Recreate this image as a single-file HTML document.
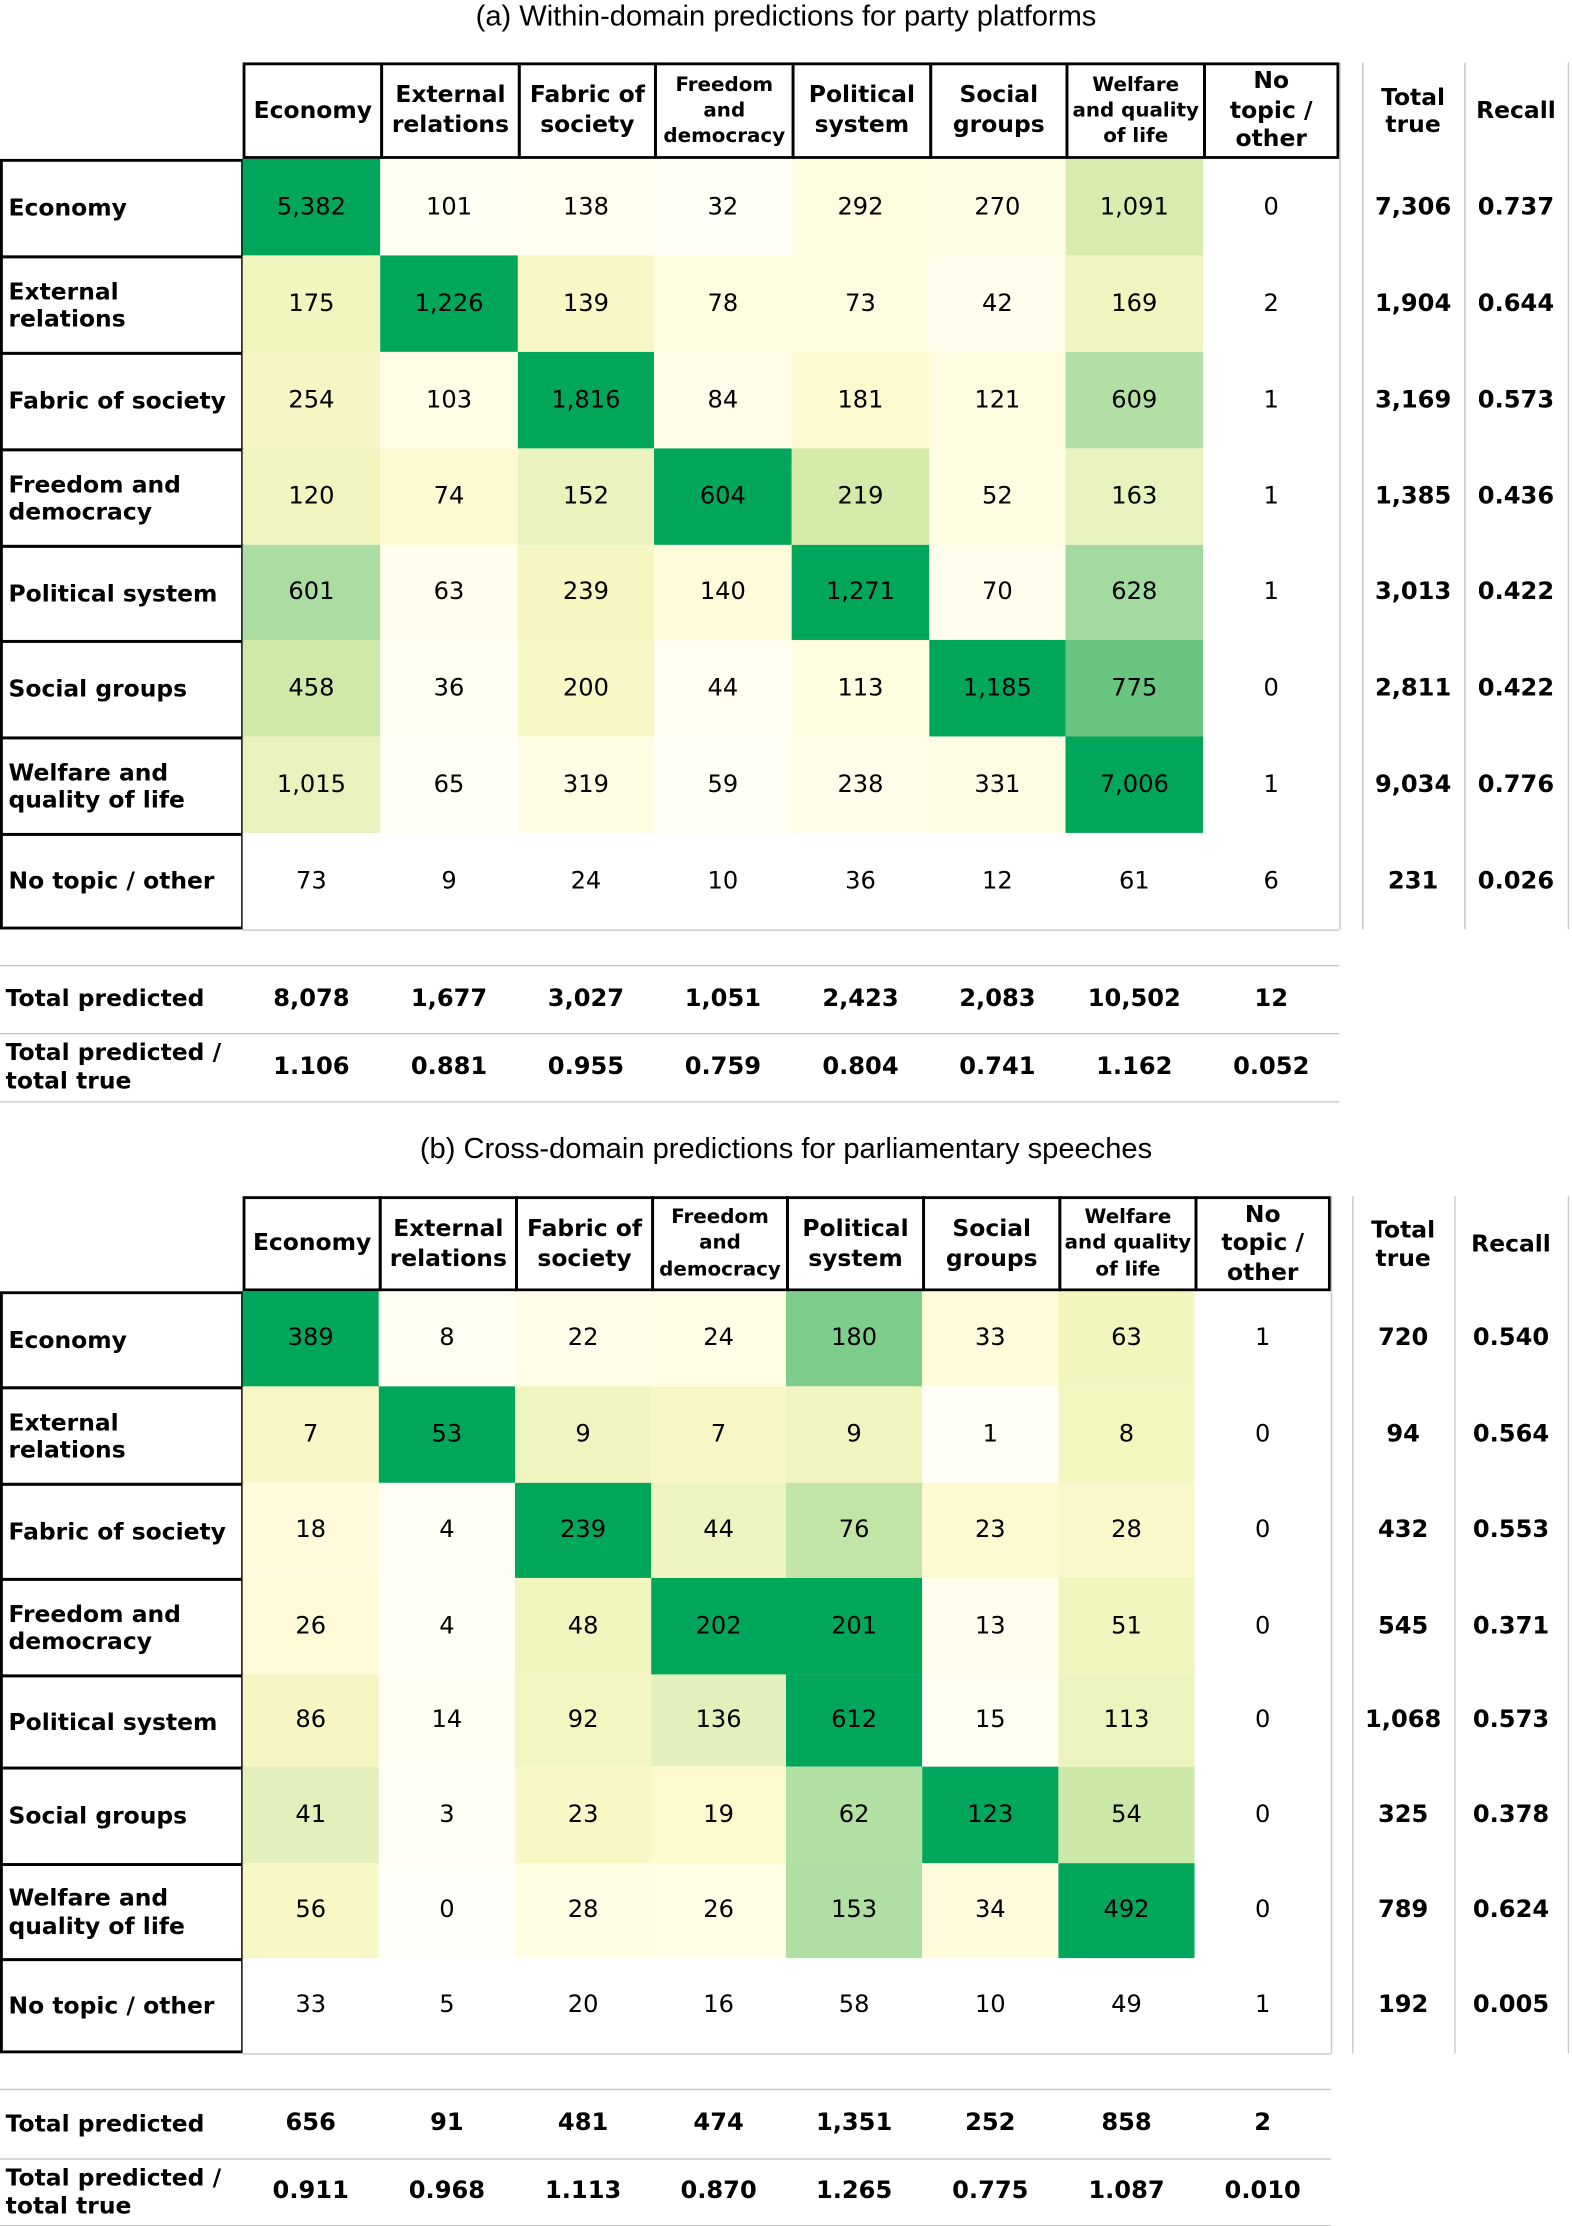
<!DOCTYPE html>
<html><head><meta charset="utf-8">
<style>
html,body{margin:0;padding:0;background:#fff;}
body{width:1572px;height:2225px;overflow:hidden;}
#wrap{position:absolute;left:0;top:0;width:1108px;height:1568px;transform:scale(1.41877,1.41901);transform-origin:0 0;font-family:"DejaVu Sans","Liberation Sans",sans-serif;color:#000;}
.c{position:absolute;display:flex;align-items:center;justify-content:center;text-align:center;box-sizing:border-box;line-height:1.18;}
.l{justify-content:flex-start;text-align:left;padding-left:4px;}
.b{font-weight:bold;}
.title{position:absolute;width:1108px;text-align:center;font-family:"Liberation Sans",sans-serif;font-size:20.5px;}
.hl{position:absolute;background:#c8c8c8;}
</style></head>
<body>
<div id="wrap"></div>
<script>
const categories = ["Economy","External relations","Fabric of society","Freedom and democracy","Political system","Social groups","Welfare and quality of life","No topic / other"];
const colHeaders = ["Economy","External<br>relations","Fabric of<br>society","Freedom<br>and<br>democracy","Political<br>system","Social<br>groups","Welfare<br>and quality<br>of life","No<br>topic /<br>other"];
const rowHeaders = ["Economy","External<br>relations","Fabric of society","Freedom and<br>democracy","Political system","Social groups","Welfare and<br>quality of life","No topic / other"];
const matrixA = [
[5382,101,138,32,292,270,1091,0],
[175,1226,139,78,73,42,169,2],
[254,103,1816,84,181,121,609,1],
[120,74,152,604,219,52,163,1],
[601,63,239,140,1271,70,628,1],
[458,36,200,44,113,1185,775,0],
[1015,65,319,59,238,331,7006,1],
[73,9,24,10,36,12,61,6]];
const totalTrueA = [7306,1904,3169,1385,3013,2811,9034,231];
const recallA = ["0.737","0.644","0.573","0.436","0.422","0.422","0.776","0.026"];
const totalPredA = [8078,1677,3027,1051,2423,2083,10502,12];
const ratioA = ["1.106","0.881","0.955","0.759","0.804","0.741","1.162","0.052"];
const matrixB = [
[389,8,22,24,180,33,63,1],
[7,53,9,7,9,1,8,0],
[18,4,239,44,76,23,28,0],
[26,4,48,202,201,13,51,0],
[86,14,92,136,612,15,113,0],
[41,3,23,19,62,123,54,0],
[56,0,28,26,153,34,492,0],
[33,5,20,16,58,10,49,1]];
const totalTrueB = [720,94,432,545,1068,325,789,192];
const recallB = ["0.540","0.564","0.553","0.371","0.573","0.378","0.624","0.005"];
const totalPredB = [656,91,481,474,1351,252,858,2];
const ratioB = ["0.911","0.968","1.113","0.870","1.265","0.775","1.087","0.010"];

const stops=[[0,[255,255,250]],[0.03,[255,253,232]],[0.06,[252,249,204]],[0.09,[242,245,190]],[0.13,[226,240,188]],[0.16,[210,234,168]],[0.21,[160,217,160]],[0.28,[102,196,127]],[0.355,[0,166,90]],[1,[0,166,90]]];
function cmap(p){for(let i=1;i<stops.length;i++){if(p<=stops[i][0]){const a=stops[i-1],b=stops[i];const t=(p-a[0])/(b[0]-a[0]);const c=a[1].map((v,k)=>Math.round(v+(b[1][k]-v)*t));return `rgb(${c})`;}}return 'rgb(0,166,90)';}
const fmt=n=>n.toLocaleString('en-US');
const W=document.getElementById('wrap');
function cell(x,y,w,h,html,cls,style,name){const d=document.createElement('div');d.className='c '+(cls||'');d.style.cssText=`left:${x}px;top:${y}px;width:${w}px;height:${h}px;`+(style||'');d.innerHTML=html;


W.appendChild(d);return d;}
function line(x,y,w,h,name){const d=document.createElement('div');d.className='hl';d.style.cssText=`left:${x}px;top:${y}px;width:${w}px;height:${h}px;`;


W.appendChild(d);}

function panel(P,matrix,tt,rec,tp,ratio,tag){
  const colX=P.colX, rowY=P.rowY;
  const t=document.createElement('div');t.className='title';t.style.top=(P.titleY)+'px';t.innerHTML=P.title;
  
  
  W.appendChild(t);
  for(let j=0;j<8;j++){
    const small=(j==3||j==6);
    cell(colX[j],P.headY,colX[j+1]-colX[j]+ (j<7?2:0),rowY[0]-P.headY,colHeaders[j],'b','border:2px solid #000;font-size:'+(small?'14px':'16.5px')+';line-height:'+(small?'1.3':'1.25')+';',tag+'-col-header-'+j);
  }
  cell(P.ttX,P.headY,P.recX-P.ttX,rowY[0]-P.headY,'Total<br>true','b','font-size:16.5px;',tag+'-total-true-header');
  cell(P.recX,P.headY,1105-P.recX,rowY[0]-P.headY,'Recall','b','font-size:16.5px;',tag+'-recall-header');
  for(let i=0;i<8;i++){
    const h=rowY[i+1]-rowY[i];
    cell(0,rowY[i],colX[0]+1,h+(i<7?2:0),rowHeaders[i],'b l','border:2px solid #000;font-size:16.5px;',tag+'-row-label-'+i);
    for(let j=0;j<8;j++){
      const p=(i<7&&j<7)? matrix[i][j]/tt[i] : 0;
      const bg=(i<7&&j<7)?cmap(p):'#fff';
      cell(colX[j],rowY[i],colX[j+1]-colX[j],h,fmt(matrix[i][j]),'','background:'+bg+';font-size:17px;',tag+'-cell-'+i+'-'+j);
    }
    cell(P.ttX,rowY[i],P.recX-P.ttX,h,fmt(tt[i]),'b','font-size:17px;',tag+'-total-true-'+i);
    cell(P.recX,rowY[i],1105-P.recX,h,rec[i],'b','font-size:17px;',tag+'-recall-'+i);
  }
  line(colX[8],P.headY,1,rowY[8]-P.headY,tag+'-matrix-right-border');
  line(colX[0],rowY[8],colX[8]-colX[0],1,tag+'-matrix-bottom-border');
  line(P.ttX,P.headY,1,rowY[8]-P.headY,tag+'-sep-total-true');
  line(P.recX,P.headY,1,rowY[8]-P.headY,tag+'-sep-recall');
  line(1105,P.headY,1,rowY[8]-P.headY,tag+'-sep-right');
  const f=P.footY;
  line(0,f[0],colX[8],1,tag+'-foot-line-0');line(0,f[1],colX[8],1,tag+'-foot-line-1');line(0,f[2],colX[8],1,tag+'-foot-line-2');
  cell(0,f[0],colX[0],f[1]-f[0],'Total predicted','b l','font-size:16.5px;',tag+'-total-predicted-label');
  cell(0,f[1],colX[0],f[2]-f[1],'Total predicted /<br>total true','b l','font-size:16.5px;line-height:1.2;',tag+'-ratio-label');
  for(let j=0;j<8;j++){
    cell(colX[j],f[0],colX[j+1]-colX[j],f[1]-f[0],fmt(tp[j]),'b','font-size:17px;',tag+'-total-predicted-'+j);
    cell(colX[j],f[1],colX[j+1]-colX[j],f[2]-f[1],ratio[j],'b','font-size:17px;',tag+'-ratio-'+j);
  }
}
panel({title:'(a) Within-domain predictions for party platforms',titleY:0,headY:44,
  colX:[171,268,365,461,558,655,751,848,944],rowY:[112,180,248,316,384,451,519,587,655],
  ttX:960,recX:1032,footY:[680,728,776]},matrixA,totalTrueA,recallA,totalPredA,ratioA,'a');
panel({title:'(b) Cross-domain predictions for parliamentary speeches',titleY:798,headY:843,
  colX:[171,267,363,459,554,650,746,842,938],rowY:[910,977,1045,1112,1180,1245,1313,1380,1447],
  ttX:953,recX:1025,footY:[1472,1521,1568]},matrixB,totalTrueB,recallB,totalPredB,ratioB,'b');
</script>
</body></html>
